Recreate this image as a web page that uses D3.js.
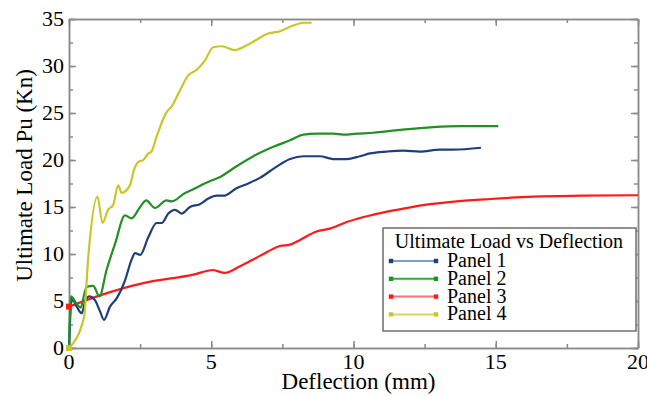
<!DOCTYPE html>
<html><head><meta charset="utf-8">
<script src="https://cdn.jsdelivr.net/npm/d3@7"></script>
</head><body style="margin:0"><svg id="c" width="647" height="396"></svg>
<script>
const seriesNames = ["Panel 1","Panel 2","Panel 3","Panel 4"];
const seriesColors = ["#1f3f7c","#229022","#ff1a1a","#c9c62a"];
const legendLineColors = ["#7f9fc8","#3fa53f","#ff7070","#d8d46a"];
const panel1X = [0,0.1,0.27,0.45,0.56,0.71,0.91,1.09,1.23,1.44,1.68,1.97,2.2,2.32,2.5,2.79,3.08,3.26,3.49,3.73,3.96,4.25,4.6,4.9,5.19,5.43,5.89,6.3,6.71,7.3,7.77,8.24,8.82,9.29,9.76,10.23,10.58,11.17,11.75,12.34,13.04,13.5,14.48];
const panel1Y = [0,5.3,4.4,3.7,4.9,5.5,5.1,3.9,3.0,4.4,5.3,7.2,9.4,10.1,9.9,11.8,13.3,13.3,14.3,14.7,14.3,15.0,15.3,15.9,16.2,16.2,17.0,17.5,18.1,19.3,20.1,20.4,20.4,20.1,20.1,20.4,20.7,20.9,21.0,20.9,21.1,21.1,21.3];
const panel2X = [0,0.07,0.27,0.41,0.56,0.62,0.85,1.07,1.32,1.62,1.97,2.2,2.5,2.71,3.02,3.43,3.61,4.08,4.31,4.84,5.07,5.25,5.77,6.48,7.18,7.77,8.24,8.7,9.29,9.64,10.11,10.7,11.63,12.8,13.75,15.09];
const panel2Y = [0,5.5,4.7,4.3,6.0,6.5,6.6,5.5,8.3,11.1,14.1,13.8,15.0,15.7,14.9,15.7,15.6,16.5,16.8,17.6,17.9,18.1,19.1,20.4,21.4,22.1,22.7,22.8,22.8,22.7,22.8,22.9,23.2,23.5,23.6,23.6];
const panel3X = [0,1.09,2.61,4.37,5.07,5.19,5.48,6.01,6.71,7.42,7.77,8.12,8.7,9.17,9.76,10.58,11.52,12.45,13.63,14.8,16.32,18.08,20];
const panel3Y = [4.4,5.6,6.9,7.8,8.3,8.2,8.0,8.7,9.8,10.85,11.0,11.5,12.4,12.7,13.4,14.1,14.7,15.2,15.6,15.85,16.1,16.2,16.25];
const panel4X = [0,0.53,0.67,1.0,1.18,1.37,1.55,1.73,1.85,2.14,2.28,2.44,2.61,2.79,2.9,3.08,3.43,3.61,3.9,4.19,4.49,4.78,5.07,5.37,5.83,6.25,6.71,6.95,7.42,7.88,8.24,8.53];
const panel4Y = [0,3.3,9.4,16.1,13.3,14.7,15.2,17.3,16.5,17.3,18.9,19.8,20.0,20.7,20.9,22.5,25.1,25.7,27.4,29.0,29.6,30.6,32.0,32.1,31.7,32.2,33.0,33.4,33.7,34.3,34.6,34.6];
const xTicks = [0,5,10,15,20];
const yTicks = [0,5,10,15,20,25,30,35];
const legendTitle = "Ultimate Load vs Deflection";
const xTitle = "Deflection (mm)";
const yTitle = "Ultimate Load Pu (Kn)";

const svg = d3.select("#c");
const L=69, R=638, T=19, B=348;
const x = d3.scaleLinear().domain([0,20]).range([L,R]);
const y = d3.scaleLinear().domain([0,35]).range([B,T]);
const frameColor = "#8a8a8a";

// text first (plain svg text, serif fonts)
function txt(sel, f){ return sel.style("font-family", `"${f}"`); }
svg.selectAll(".xl").data(xTicks).join("text")
  .attr("x",d=>x(d)).attr("y",B+21).attr("text-anchor","middle")
  .attr("font-size",22).call(txt,"Times New Roman").text(d=>d);
svg.selectAll(".yl").data(yTicks).join("text")
  .attr("x",L-5).attr("y",d=>y(d)+7).attr("text-anchor","end")
  .attr("font-size",22).call(txt,"Times New Roman").text(d=>d);
svg.append("text").attr("x",(L+R)/2+5).attr("y",389).attr("text-anchor","middle")
  .attr("font-size",23).call(txt,"Tinos").text(xTitle);
svg.append("text").attr("transform",`translate(32,${(T+B)/2-8}) rotate(-90)`)
  .attr("text-anchor","middle").attr("font-size",23).call(txt,"Tinos").text(yTitle);

const minorX = d3.range(0,20.01,2.5), minorY = d3.range(0,35.01,2.5);
function axisG(axis, tx, ty){
  const g = svg.append("g").attr("transform",`translate(${tx},${ty})`).call(axis);
  g.selectAll("path,line").attr("stroke",frameColor).attr("stroke-width",1.5);
  g.selectAll("text").remove();
  g.attr("font-family",null);
  return g;
}
axisG(d3.axisBottom(x).tickValues(minorX).tickSize(-4).tickSizeOuter(0), 0, B);
axisG(d3.axisBottom(x).tickValues(xTicks).tickSize(-7).tickSizeOuter(0), 0, B);
axisG(d3.axisTop(x).tickValues(minorX).tickSize(-4).tickSizeOuter(0), 0, T);
axisG(d3.axisTop(x).tickValues(xTicks).tickSize(-7).tickSizeOuter(0), 0, T);
axisG(d3.axisLeft(y).tickValues(minorY).tickSize(-4).tickSizeOuter(0), L, 0);
axisG(d3.axisLeft(y).tickValues(yTicks).tickSize(-7).tickSizeOuter(0), L, 0);
axisG(d3.axisRight(y).tickValues(minorY).tickSize(-4).tickSizeOuter(0), R, 0);
axisG(d3.axisRight(y).tickValues(yTicks).tickSize(-7).tickSizeOuter(0), R, 0);

const data = [[panel1X,panel1Y],[panel2X,panel2Y],[panel3X,panel3Y],[panel4X,panel4Y]];
const line = d3.line().x(d=>x(d[0])).y(d=>Math.max(T, y(d[1]))).curve(d3.curveMonotoneX);
[2,0,1,3].forEach(i=>{
  const pts = data[i][0].map((v,k)=>[v,data[i][1][k]]);
  svg.append("path").attr("d",line(pts))
    .attr("fill","none").attr("stroke",seriesColors[i]).attr("stroke-width",2.2)
    .attr("stroke-linejoin","round");
});
[2,3].forEach(i=>{
  svg.append("rect").attr("x",x(data[i][0][0])-3).attr("y",y(data[i][1][0])-3)
    .attr("width",6).attr("height",6).attr("fill",seriesColors[i]);
});

const lg = svg.append("g");
lg.append("rect").attr("x",383).attr("y",228).attr("width",253).attr("height",103)
  .attr("fill","#fff").attr("stroke","#6e6e6e").attr("stroke-width",1.5);
lg.append("text").attr("x",509).attr("y",248).attr("text-anchor","middle")
  .attr("font-size",20).call(txt,"Liberation Serif").text(legendTitle);
seriesNames.forEach((n,i)=>{
  const cy = 261 + i*17.8;
  lg.append("line").attr("x1",391).attr("x2",436).attr("y1",cy).attr("y2",cy)
    .attr("stroke",legendLineColors[i]).attr("stroke-width",2);
  [391,436].forEach(mx=>lg.append("rect").attr("x",mx-2.2).attr("y",cy-2.2)
    .attr("width",4.4).attr("height",4.4).attr("fill",seriesColors[i]));
  lg.append("text").attr("x",447).attr("y",cy+6).attr("font-size",20).call(txt,"Liberation Serif").text(n);
});
</script></body></html>
